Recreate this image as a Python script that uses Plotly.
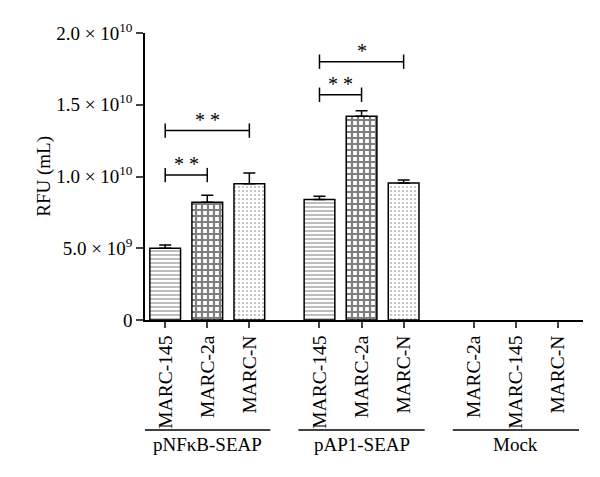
import plotly.graph_objects as go

# data
groups = ["pNF\u03baB-SEAP", "pAP1-SEAP", "Mock"]
cells = [
    ["MARC-145", "MARC-2a", "MARC-N"],
    ["MARC-145", "MARC-2a", "MARC-N"],
    ["MARC-2a", "MARC-145", "MARC-N"],
]
# values per group in order above
values = [
    [5.0e9, 8.2e9, 9.5e9],
    [8.4e9, 1.42e10, 9.55e9],
    [0, 0, 0],
]
errors = [
    [0.22e9, 0.5e9, 0.75e9],
    [0.22e9, 0.38e9, 0.2e9],
    [0, 0, 0],
]
# significance brackets: (group, bar from, bar to, height, label)
sig = [
    (0, 0, 1, 1.01e10, "* *"),
    (0, 0, 2, 1.32e10, "* *"),
    (1, 0, 1, 1.57e10, "* *"),
    (1, 0, 2, 1.80e10, "*"),
]
ytick_vals = [0, 5e9, 1e10, 1.5e10, 2e10]
ytick_text = ["0", "5.0 \u00d7 10<sup>9</sup>", "1.0 \u00d7 10<sup>10</sup>",
              "1.5 \u00d7 10<sup>10</sup>", "2.0 \u00d7 10<sup>10</sup>"]

group_step = 3.667
FONT = "Liberation Serif"


def xpos(g, i):
    return g * group_step + i


# pattern style keyed by cell line
patterns = {
    "MARC-145": dict(shape="-", fgcolor="#222", bgcolor="white", size=4, solidity=0.3),
    "MARC-2a": dict(shape="+", fgcolor="black", bgcolor="white", size=6, solidity=0.6),
    "MARC-N": dict(shape=".", fgcolor="#666", bgcolor="white", size=4, solidity=0.2),
}

fig = go.Figure()
tickvals, ticktext = [], []
for g in range(len(groups)):
    for i, name in enumerate(cells[g]):
        x = xpos(g, i)
        tickvals.append(x)
        ticktext.append(name)
        if values[g][i] == 0:
            continue
        fig.add_trace(go.Bar(
            x=[x], y=[values[g][i]], width=0.73,
            marker=dict(color="white", pattern=patterns[name],
                        line=dict(color="black", width=1.5)),
            error_y=dict(type="data", array=[errors[g][i]], arrayminus=[0],
                         symmetric=False, color="black", thickness=1.5, width=6),
            showlegend=False,
        ))

shapes = []
annotations = []
tick_h = 0.05e10
for g, a, b, h, lab in sig:
    x0, x1 = xpos(g, a), xpos(g, b)
    for sx0, sy0, sx1, sy1 in [(x0, h, x1, h), (x0, h - tick_h, x0, h + tick_h),
                               (x1, h - tick_h, x1, h + tick_h)]:
        shapes.append(dict(type="line", xref="x", yref="y", x0=sx0, y0=sy0, x1=sx1, y1=sy1,
                           line=dict(color="black", width=1.5)))
    annotations.append(dict(x=(x0 + x1) / 2, y=h, xref="x", yref="y", text=lab,
                            showarrow=False, yanchor="bottom", yshift=-2,
                            font=dict(family=FONT, size=20, color="black")))

for g, lab in enumerate(groups):
    c = xpos(g, 1)
    shapes.append(dict(type="line", xref="x", yref="paper", x0=c - 1.5, x1=c + 1.5,
                       y0=-0.383, y1=-0.383, line=dict(color="black", width=1.5)))
    annotations.append(dict(x=c, y=-0.39, xref="x", yref="paper", text=lab,
                            showarrow=False, yanchor="top",
                            font=dict(family=FONT, size=19, color="black")))

annotations.append(dict(x=-0.262, y=0.5, xref="paper", yref="paper", text="RFU (mL)",
                        textangle=-90, showarrow=False,
                        font=dict(family=FONT, size=19, color="black")))

# page body has an 8px margin, so the figure is 8px smaller and margins shifted
fig.update_layout(
    width=592, height=469,
    margin=dict(l=137, r=17, t=25, b=157),
    paper_bgcolor="white", plot_bgcolor="white",
    font=dict(family=FONT, size=19, color="black"),
    barmode="overlay",
    shapes=shapes, annotations=annotations,
    xaxis=dict(range=[-0.48, 9.93], tickvals=tickvals, ticktext=ticktext,
               tickangle=-90, ticks="outside", ticklen=6, tickwidth=1.5,
               showline=True, linecolor="black", linewidth=1.5,
               showgrid=False, zeroline=False, tickfont=dict(size=19.5)),
    yaxis=dict(range=[0, 2e10], tickvals=ytick_vals, ticktext=ytick_text,
               ticks="outside", ticklen=7, tickwidth=1.5,
               showline=True, linecolor="black", linewidth=1.5,
               showgrid=False, zeroline=False, tickfont=dict(size=19)),
)

fig.write_html("out.html")
